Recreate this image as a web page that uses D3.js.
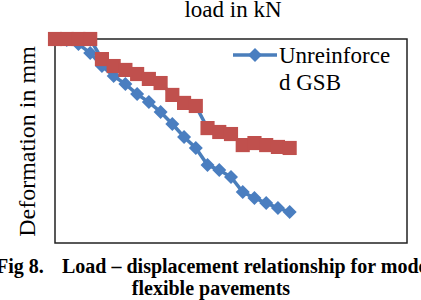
<!DOCTYPE html>
<html><head><meta charset="utf-8">
<script src="https://cdn.jsdelivr.net/npm/d3@7"></script>
<style>html,body{margin:0;padding:0;background:#fff;overflow:hidden}</style>
</head><body><svg id="c" width="421" height="300"></svg>
<script>
const loads = [0,0.5,1,1.5,2,2.5,3,3.5,4,4.5,5,5.5,6,6.5,7,7.5,8,8.5,9,9.5,10];
const unreinforced = [0,0.06,0.3,0.82,1.59,2.18,2.65,3.24,3.71,4.29,5.0,5.76,6.41,7.41,7.71,8.12,9.0,9.35,9.65,9.94,10.18];
const reinforced = [0,0,0,0,1.18,1.59,1.82,2.06,2.35,2.59,3.29,3.76,3.94,5.24,5.47,5.59,6.24,6.12,6.24,6.35,6.41];
const xDomain = [0,15];
const yDomain = [0,12];
const legendLabel = ["Unreinforce","d GSB"];

const svg = d3.select("#c");
const font = "'Liberation Serif','Times New Roman',serif";
const x = d3.scaleLinear().domain(xDomain).range([55,407]);
const y = d3.scaleLinear().domain(yDomain).range([39,243]);
const blue = "#4A7EBB", blueFill = "#4A7EC0", red = "#C0504D";

svg.append("rect").attr("x",55).attr("y",39).attr("width",352).attr("height",204)
  .attr("fill","none").attr("stroke","#222").attr("stroke-width",1.5);

const line = d3.line().x((d,i)=>x(loads[i])).y(d=>y(d));
const diamond = d3.symbol().type(d3.symbolDiamond2).size(125);
const square = d3.symbol().type(d3.symbolSquare).size(200);

svg.append("path").datum(unreinforced).attr("d",line).attr("fill","none").attr("stroke",blue).attr("stroke-width",3.5);
svg.selectAll(".bd").data(unreinforced).join("path").attr("class","bd")
  .attr("transform",(d,i)=>`translate(${x(loads[i])},${y(d)})`).attr("d",diamond).attr("fill",blueFill);

svg.append("path").datum(reinforced).attr("d",line).attr("fill","none").attr("stroke",blue).attr("stroke-width",3.5);
svg.selectAll(".rs").data(reinforced).join("path").attr("class","rs")
  .attr("transform",(d,i)=>`translate(${x(loads[i])},${y(d)})`).attr("d",square).attr("fill",red);

// legend
svg.append("line").attr("x1",233).attr("x2",277).attr("y1",55).attr("y2",55).attr("stroke",blue).attr("stroke-width",3.5);
svg.append("path").attr("transform","translate(255,55)").attr("d",diamond).attr("fill",blueFill);
svg.selectAll(".lg").data(legendLabel).join("text").attr("class","lg")
  .attr("x",279).attr("y",(d,i)=>63+i*27).text(d=>d)
  .attr("font-family",font).attr("font-size",23).attr("fill","#000");

svg.append("text").attr("x",233).attr("y",17).attr("text-anchor","middle")
  .attr("font-family",font).attr("font-size",23).text("load in kN");

svg.append("text").attr("transform","translate(35,141.5) rotate(-90)").attr("text-anchor","middle")
  .attr("font-family",font).attr("font-size",24).text("Deformation in mm");

const cap = svg.append("text").attr("font-family",font).attr("font-size",20).attr("font-weight","bold");
cap.append("tspan").attr("x",-4).attr("y",273).text("Fig 8.");
cap.append("tspan").attr("x",62).attr("y",273).text("Load – displacement relationship for model");
svg.append("text").attr("font-family",font).attr("font-size",20).attr("font-weight","bold")
  .attr("x",211).attr("y",295).attr("text-anchor","middle").text("flexible pavements");
</script></body></html>
